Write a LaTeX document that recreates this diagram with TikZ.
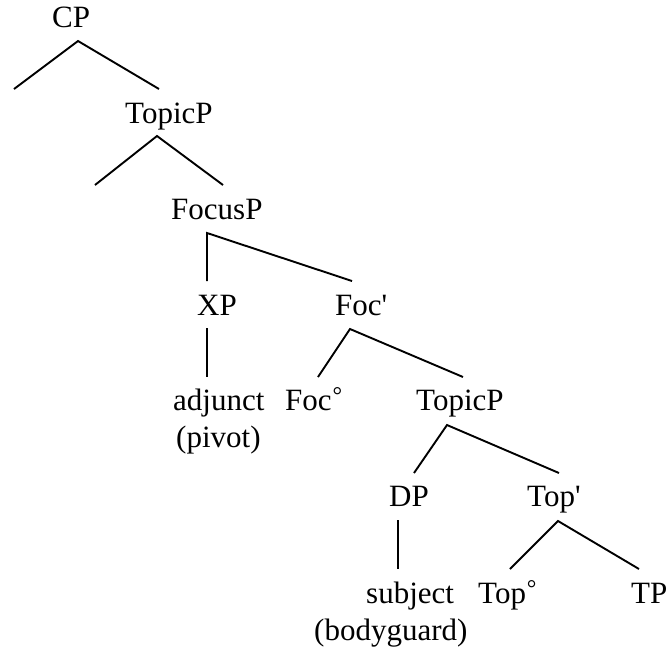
\documentclass[tikz,border=0pt]{standalone}
\usepackage{fontspec}
\newfontfamily\tnr{Liberation Serif}
\newcommand{\dg}{\kern1pt\raisebox{7pt}{\fontsize{24}{24}\selectfont°}}
\begin{document}
\begin{tikzpicture}[x=1pt,y=-1pt,
  lbl/.style={inner sep=0pt,anchor=base west,font=\tnr\fontsize{31}{36}\selectfont},
  branch/.style={line width=1.9pt,line cap=butt,line join=miter}]
\useasboundingbox (0,0) rectangle (668,659);
% labels
\node[lbl] (cp) at (52,27) {CP};
\node[lbl] (top1) at (125,123) {TopicP};
\node[lbl] (focp) at (171,219) {FocusP};
\node[lbl] (xp) at (197,315) {XP};
\node[lbl] (focbar) at (335,315) {Foc'};
\node[lbl] (adj) at (173,410) {adjunct};
\node[lbl] (foc0) at (285,410) {Foc\dg};
\node[lbl] (top2) at (416,410) {TopicP};
\node[lbl] (pivot) at (176,447) {(pivot)};
\node[lbl] (dp) at (389,506) {DP};
\node[lbl] (topbar) at (527,506) {Top'};
\node[lbl] (subj) at (366,603) {subject};
\node[lbl] (top0) at (478,603) {Top\dg};
\node[lbl] (tp) at (631,603) {TP};
\node[lbl] (bg) at (314,640) {(bodyguard)};
% branch points
\coordinate (cpA) at (78,41);
\coordinate (cpL) at (14,89);
\coordinate (cpR) at (159,89);
\coordinate (t1A) at (157,136);
\coordinate (t1L) at (95,185);
\coordinate (t1R) at (223,185);
\coordinate (fpA) at (207,233);
\coordinate (fpL) at (207,281);
\coordinate (fpR) at (352,281);
\coordinate (xpA) at (207,328);
\coordinate (xpB) at (207,377);
\coordinate (fbA) at (350,329);
\coordinate (fbL) at (318,377);
\coordinate (fbR) at (463,377);
\coordinate (t2A) at (447,425);
\coordinate (t2L) at (414,473);
\coordinate (t2R) at (559,473);
\coordinate (dpA) at (398,520);
\coordinate (dpB) at (398,569);
\coordinate (tbA) at (558,521);
\coordinate (tbL) at (510,569);
\coordinate (tbR) at (639,569);
% branches
\draw[branch] (cpL) -- (cpA) -- (cpR);
\draw[branch] (t1L) -- (t1A) -- (t1R);
\draw[branch] (fpL) -- (fpA) -- (fpR);
\draw[branch] (xpA) -- (xpB);
\draw[branch] (fbL) -- (fbA) -- (fbR);
\draw[branch] (t2L) -- (t2A) -- (t2R);
\draw[branch] (dpA) -- (dpB);
\draw[branch] (tbL) -- (tbA) -- (tbR);
\end{tikzpicture}
\end{document}
